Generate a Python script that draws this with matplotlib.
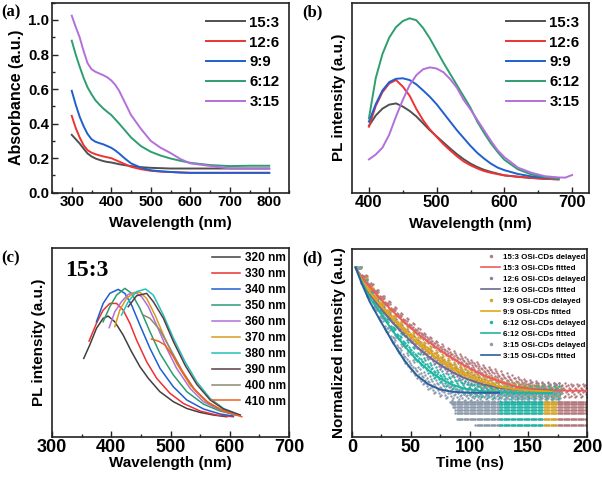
import matplotlib
matplotlib.use("Agg")
import matplotlib.pyplot as plt
from matplotlib.ticker import MultipleLocator, NullLocator
from matplotlib.lines import Line2D

plt.rcParams['font.family'] = ['Liberation Sans', 'DejaVu Sans']
plt.rcParams['font.weight'] = 'bold'
plt.rcParams['axes.labelweight'] = 'bold'

# ---------------- (a) absorbance ----------------
wl_a = [300, 310, 320, 330, 340, 350, 360, 370, 380, 390, 400, 410, 420, 435, 450,
        475, 500, 525, 550, 575, 600, 650, 700, 750, 800]
abs_15_3 = [0.335, 0.31, 0.285, 0.255, 0.227, 0.21, 0.198, 0.19, 0.183, 0.178, 0.175, 0.17, 0.165,
            0.159, 0.154, 0.148, 0.144, 0.142, 0.14, 0.14, 0.14, 0.14, 0.14, 0.14, 0.14]
abs_12_6 = [0.445, 0.375, 0.32, 0.275, 0.246, 0.232, 0.223, 0.216, 0.21, 0.205, 0.20, 0.19, 0.18,
            0.165, 0.15, 0.136, 0.127, 0.122, 0.12, 0.117, 0.115, 0.115, 0.115, 0.115, 0.115]
abs_9_9 = [0.59, 0.51, 0.44, 0.385, 0.34, 0.31, 0.295, 0.287, 0.28, 0.27, 0.26, 0.245, 0.227,
           0.197, 0.17, 0.145, 0.13, 0.124, 0.12, 0.117, 0.115, 0.115, 0.115, 0.115, 0.115]
abs_6_12 = [0.88, 0.80, 0.73, 0.665, 0.61, 0.57, 0.535, 0.51, 0.487, 0.468, 0.45, 0.425, 0.40,
            0.36, 0.32, 0.27, 0.237, 0.215, 0.198, 0.185, 0.173, 0.16, 0.154, 0.156, 0.156]
abs_3_15 = [1.025, 0.96, 0.90, 0.82, 0.75, 0.715, 0.70, 0.69, 0.68, 0.668, 0.65, 0.625, 0.59,
            0.52, 0.45, 0.37, 0.30, 0.26, 0.23, 0.195, 0.17, 0.155, 0.14, 0.14, 0.14]

ratio_labels = ['15:3', '12:6', '9:9', '6:12', '3:15']
ratio_colors = ['#505050', '#ee3333', '#1f5fd0', '#2e9e6e', '#b36fdc']

# ---------------- (b) PL spectra ----------------
wl_b = [400, 410, 420, 430, 440, 450, 460, 470, 480, 490, 500, 510, 520, 530, 540, 550, 560,
        570, 580, 590, 600, 620, 640, 660, 680]
pl_15_3 = [0.385, 0.445, 0.485, 0.508, 0.515, 0.497, 0.472, 0.44, 0.40, 0.36, 0.325, 0.29, 0.255,
           0.222, 0.193, 0.168, 0.148, 0.132, 0.12, 0.11, 0.10, 0.092, 0.085, 0.08, 0.077]
pl_12_6 = [0.381, 0.50, 0.58, 0.63, 0.65, 0.612, 0.56, 0.483, 0.418, 0.365, 0.322, 0.28, 0.244,
           0.21, 0.18, 0.158, 0.14, 0.125, 0.115, 0.107, 0.10, 0.092, 0.085, 0.08, 0.077]
pl_9_9 = [0.41, 0.51, 0.59, 0.638, 0.657, 0.66, 0.65, 0.625, 0.59, 0.553, 0.51, 0.46, 0.41,
          0.36, 0.315, 0.27, 0.23, 0.197, 0.168, 0.145, 0.13, 0.108, 0.094, 0.087, 0.083]
pl_6_12 = [0.429, 0.66, 0.80, 0.895, 0.955, 0.99, 1.006, 0.995, 0.95, 0.89, 0.82, 0.75, 0.685,
           0.62, 0.555, 0.49, 0.41, 0.345, 0.285, 0.235, 0.19, 0.135, 0.105, 0.09, 0.08]
wl_b_315 = [400, 410, 420, 430, 440, 450, 460, 470, 480, 490, 500, 510, 520, 530, 540, 550, 560,
            570, 580, 590, 600, 620, 640, 660, 680, 690, 700]
pl_3_15 = [0.192, 0.22, 0.26, 0.335, 0.44, 0.535, 0.62, 0.678, 0.712, 0.723, 0.716, 0.695, 0.655,
           0.605, 0.535, 0.48, 0.42, 0.36, 0.30, 0.245, 0.205, 0.145, 0.115, 0.095, 0.088, 0.087, 0.102]

# ---------------- (c) excitation-dependent PL of 15:3 ----------------
exc_labels = ['320 nm', '330 nm', '340 nm', '350 nm', '360 nm',
              '370 nm', '380 nm', '390 nm', '400 nm', '410 nm']
exc_colors = ['#404040', '#ee3030', '#1d5fd0', '#2a9d70', '#b070d8',
              '#d89a20', '#22c2b8', '#5a3a4a', '#8c8a70', '#f06020']
c_wl_320 = [353.6, 363.7, 375, 386.3, 394.8, 406, 420, 434.3, 448.4, 462.5, 482, 504.8, 527.4, 550, 572.5, 595]
c_pl_320 = [0.452, 0.529, 0.625, 0.683, 0.696, 0.663, 0.587, 0.49, 0.404, 0.337, 0.26, 0.202, 0.163, 0.14, 0.125, 0.115]
c_wl_330 = [362.6, 375, 386.3, 397.6, 408.9, 420.2, 431.5, 442.7, 459.7, 476.6, 499.2, 521.7, 550, 578, 606]
c_pl_330 = [0.552, 0.654, 0.73, 0.769, 0.769, 0.73, 0.654, 0.558, 0.433, 0.337, 0.25, 0.192, 0.148, 0.125, 0.115]
c_wl_340 = [375, 386.3, 397.6, 411.7, 423, 434.3, 448.4, 465.3, 482.3, 504.8, 527.4, 555.6, 583.8, 606.3]
c_pl_340 = [0.663, 0.769, 0.827, 0.85, 0.827, 0.76, 0.644, 0.51, 0.394, 0.288, 0.212, 0.16, 0.131, 0.119]
c_wl_350 = [386.3, 397.6, 408.9, 423, 434.3, 448.4, 465.3, 482.3, 504.8, 527.4, 555.6, 583.8, 612]
c_pl_350 = [0.663, 0.75, 0.817, 0.856, 0.827, 0.74, 0.606, 0.48, 0.356, 0.26, 0.188, 0.148, 0.125]
c_wl_360 = [396.5, 406, 417.3, 428.6, 439.9, 451.2, 462.5, 476.6, 493.5, 510.4, 533, 555.6, 583.8, 612]
c_pl_360 = [0.629, 0.721, 0.779, 0.821, 0.833, 0.808, 0.75, 0.644, 0.51, 0.394, 0.279, 0.202, 0.154, 0.125]
c_wl_370 = [406, 414.5, 425.8, 437.1, 448.4, 459.7, 473.8, 490.7, 510.4, 533, 558.4, 583.8, 617.6]
c_pl_370 = [0.635, 0.731, 0.798, 0.827, 0.833, 0.798, 0.702, 0.567, 0.423, 0.298, 0.208, 0.16, 0.121]
c_wl_380 = [417.3, 428.6, 442.7, 458, 471, 488, 505, 524.5, 544.3, 566.9, 589.4, 617.6]
c_pl_380 = [0.702, 0.779, 0.837, 0.852, 0.817, 0.702, 0.567, 0.433, 0.317, 0.221, 0.163, 0.125]
c_wl_390 = [428.6, 442.7, 459.7, 471, 488, 505, 524.5, 544.3, 566.9, 589.4, 617.6]
c_pl_390 = [0.75, 0.813, 0.827, 0.779, 0.683, 0.548, 0.413, 0.302, 0.212, 0.16, 0.125]
c_wl_400 = [454, 465.3, 482.3, 499.2, 519, 538.8, 561.3, 583.8, 609]
c_pl_400 = [0.702, 0.683, 0.615, 0.51, 0.385, 0.279, 0.202, 0.154, 0.125]
c_wl_410 = [468, 479.3, 490.7, 504.8, 521.7, 541.5, 564, 589.4, 620.4]
c_pl_410 = [0.563, 0.552, 0.529, 0.462, 0.365, 0.269, 0.196, 0.148, 0.115]

# ---------------- (d) delayed fluorescence decay ----------------
t_long = [3, 8, 13, 18, 23, 28, 33, 38, 43, 48, 53, 58, 63, 68, 73, 78, 83, 88, 93, 98,
          103, 108, 113, 118, 123, 128, 133, 138, 143, 148, 153, 158, 163, 168, 173, 178,
          183, 188, 193, 198]
t_short = t_long[:35]
d15_mid = [0.90, 0.855, 0.81, 0.775, 0.742, 0.71, 0.678, 0.647, 0.618, 0.59, 0.563, 0.538, 0.515,
           0.493, 0.472, 0.452, 0.434, 0.416, 0.40, 0.385, 0.37, 0.357, 0.344, 0.331, 0.318, 0.306,
           0.295, 0.285, 0.276, 0.268, 0.262, 0.257, 0.253, 0.25, 0.248, 0.246, 0.245, 0.245, 0.245, 0.245]
d15_spread = [0.004, 0.006, 0.007, 0.008, 0.01, 0.011, 0.012, 0.013, 0.014, 0.015, 0.016, 0.017,
              0.018, 0.019, 0.02, 0.021, 0.022, 0.023, 0.024, 0.025, 0.026, 0.027, 0.028, 0.029,
              0.03, 0.031, 0.032, 0.033, 0.034, 0.035, 0.036, 0.037, 0.038, 0.038, 0.038, 0.038,
              0.038, 0.038, 0.038, 0.038]
d12_mid = [0.90, 0.835, 0.78, 0.735, 0.695, 0.655, 0.62, 0.585, 0.552, 0.522, 0.492, 0.464, 0.438,
           0.414, 0.392, 0.372, 0.353, 0.337, 0.322, 0.308, 0.296, 0.285, 0.276, 0.268, 0.262,
           0.257, 0.253, 0.25, 0.248, 0.247, 0.246, 0.245, 0.245, 0.245, 0.245]
d12_spread = [0.004, 0.006, 0.008, 0.01, 0.012, 0.014, 0.016, 0.018, 0.02, 0.022, 0.024, 0.026,
              0.028, 0.03, 0.032, 0.034, 0.035, 0.036, 0.037, 0.038, 0.039, 0.04, 0.04, 0.04,
              0.04, 0.04, 0.04, 0.04, 0.04, 0.04, 0.04, 0.04, 0.04, 0.04, 0.04]
d9_mid = [0.90, 0.84, 0.79, 0.745, 0.708, 0.672, 0.638, 0.604, 0.573, 0.543, 0.515, 0.489, 0.464,
          0.44, 0.417, 0.396, 0.376, 0.358, 0.342, 0.328, 0.315, 0.303, 0.292, 0.281, 0.272,
          0.264, 0.258, 0.254, 0.25, 0.247, 0.245, 0.243, 0.242, 0.241, 0.24]
d9_spread = [0.004, 0.006, 0.008, 0.01, 0.011, 0.012, 0.013, 0.014, 0.015, 0.016, 0.017, 0.018,
             0.019, 0.02, 0.021, 0.022, 0.023, 0.024, 0.025, 0.026, 0.027, 0.028, 0.029, 0.03,
             0.03, 0.03, 0.03, 0.03, 0.03, 0.03, 0.03, 0.03, 0.03, 0.03, 0.03]
d6_mid = [0.90, 0.83, 0.765, 0.715, 0.668, 0.622, 0.578, 0.535, 0.495, 0.458, 0.424, 0.393, 0.365,
          0.34, 0.318, 0.30, 0.284, 0.27, 0.26, 0.252, 0.247, 0.243, 0.24, 0.238, 0.236, 0.235,
          0.234, 0.233, 0.233, 0.233, 0.233, 0.233, 0.233, 0.233, 0.233]
d6_spread = [0.004, 0.006, 0.008, 0.01, 0.012, 0.014, 0.016, 0.018, 0.02, 0.022, 0.024, 0.026,
             0.028, 0.03, 0.031, 0.032, 0.033, 0.034, 0.035, 0.035, 0.035, 0.035, 0.035, 0.035,
             0.035, 0.035, 0.035, 0.035, 0.035, 0.035, 0.035, 0.035, 0.035, 0.035, 0.035]
d3_mid = [0.90, 0.82, 0.75, 0.685, 0.63, 0.573, 0.52, 0.468, 0.42, 0.378, 0.342, 0.31, 0.285,
          0.265, 0.25, 0.24, 0.232, 0.226, 0.222, 0.22, 0.218, 0.217, 0.216, 0.215, 0.215, 0.215,
          0.215, 0.215, 0.215, 0.215, 0.215, 0.215, 0.215, 0.215, 0.215]
d3_spread = [0.004, 0.007, 0.01, 0.013, 0.016, 0.019, 0.022, 0.025, 0.028, 0.03, 0.032, 0.034,
             0.036, 0.037, 0.038, 0.038, 0.038, 0.038, 0.037, 0.036, 0.035, 0.035, 0.035, 0.035,
             0.035, 0.035, 0.035, 0.035, 0.035, 0.035, 0.035, 0.035, 0.035, 0.035, 0.035]
# low-count rows at the bottom of the decay
floor_levels = [0.187, 0.172, 0.156, 0.142, 0.126, 0.096, 0.062]
floor_start = [83, 85, 86, 88, 88, 89, 105]
floor_seg_end = [126, 163, 175, 200]
floor_seg_colors = ['#8c9bab', '#23b3a5', '#d4a52a', '#b57a7f']

t_fit = [3, 8, 15, 25, 35, 45, 55, 65, 75, 85, 95, 110, 125, 140, 155, 170, 185, 200]
fit_15 = [0.902, 0.855, 0.80, 0.728, 0.666, 0.606, 0.553, 0.506, 0.461, 0.418, 0.381, 0.333,
          0.295, 0.266, 0.253, 0.247, 0.245, 0.245]
fit_12 = [0.902, 0.835, 0.76, 0.68, 0.605, 0.54, 0.48, 0.428, 0.383, 0.345, 0.314, 0.281,
          0.261, 0.251, 0.247, 0.245]
fit_9 = [0.902, 0.84, 0.77, 0.694, 0.624, 0.561, 0.505, 0.454, 0.407, 0.367, 0.335, 0.296,
         0.267, 0.252, 0.245, 0.241]
fit_6 = [0.902, 0.83, 0.74, 0.652, 0.56, 0.48, 0.41, 0.355, 0.31, 0.277, 0.257, 0.243,
         0.237, 0.234, 0.233, 0.233]
fit_3 = [0.902, 0.82, 0.72, 0.608, 0.50, 0.402, 0.328, 0.279, 0.251, 0.24, 0.235, 0.234, 0.234]
decay_names = ['15:3', '12:6', '9:9', '6:12', '3:15']
dot_colors = ['#b57a7f', '#8d7f9e', '#d4a52a', '#23b3a5', '#8c9bab']
fit_colors = ['#f25a5a', '#6b6b8f', '#e8a317', '#1fb5a0', '#2a5f9e']

# ---------------- figure ----------------
W, H = 602, 479
fig = plt.figure(figsize=(W / 100, H / 100), dpi=100)


def px_axes(l, t, r, b):
    return fig.add_axes([l / W, 1 - b / H, (r - l) / W, (b - t) / H])


def style(ax, fs):
    for s in ax.spines.values():
        s.set_linewidth(1.2)
        s.set_color('#222222')
    ax.tick_params(which='both', direction='in', top=False, right=False, width=1.0,
                   labelsize=fs, pad=2, color='#222222')
    ax.tick_params(which='major', length=4)
    ax.tick_params(which='minor', length=2.5)


def legend_px(ax, handles, labels, x, y, fs, spacing, hl, tp):
    ax.legend(handles, labels, loc='upper left', bbox_to_anchor=(x / W, 1 - y / H),
              bbox_transform=fig.transFigure, frameon=False, borderpad=0, borderaxespad=0,
              prop={'size': fs, 'weight': 'bold'}, labelspacing=spacing, handlelength=hl,
              handletextpad=tp)


def panel_label(x, y, s):
    fig.text(x / W, 1 - y / H, s, family='Liberation Serif', weight='bold', fontsize=12,
             ha='left', va='center')


# (a)
ax = px_axes(52, 2.7, 289, 192.7)
hs = []
for vals, col in zip([abs_15_3, abs_12_6, abs_9_9, abs_6_12, abs_3_15], ratio_colors):
    hs.append(ax.plot(wl_a, vals, color=col, lw=1.4)[0])
ax.set_xlim(250, 850)
ax.set_ylim(0, 1.1)
ax.xaxis.set_major_locator(MultipleLocator(100))
ax.xaxis.set_minor_locator(MultipleLocator(50))
ax.yaxis.set_major_locator(MultipleLocator(0.2))
ax.yaxis.set_minor_locator(MultipleLocator(0.1))
ax.yaxis.set_major_formatter(plt.FormatStrFormatter('%.1f'))
style(ax, 10.8)
ax.set_xlabel('Wavelength (nm)', fontsize=11, labelpad=5)
ax.set_ylabel('Absorbance (a.u.)', fontsize=11.5, labelpad=3)
legend_px(ax, hs, ratio_labels, 206, 15.7, 10.8, 0.39, 2.6, 0.3)
panel_label(1, 12, '(a)')

# (b)
ax = px_axes(352, 2.7, 589, 192.7)
hs = []
for wl, vals, col in zip([wl_b, wl_b, wl_b, wl_b, wl_b_315],
                         [pl_15_3, pl_12_6, pl_9_9, pl_6_12, pl_3_15], ratio_colors):
    hs.append(ax.plot(wl, vals, color=col, lw=1.4)[0])
ax.set_xlim(375, 725)
ax.set_ylim(0, 1.096)
ax.xaxis.set_major_locator(MultipleLocator(100))
ax.xaxis.set_minor_locator(MultipleLocator(50))
ax.yaxis.set_major_locator(NullLocator())
style(ax, 12)
ax.set_xlabel('Wavelength (nm)', fontsize=11, labelpad=5)
ax.set_ylabel('PL intensity (a.u.)', fontsize=11, labelpad=4)
legend_px(ax, hs, ratio_labels, 506, 15.7, 10.8, 0.39, 2.6, 0.3)
panel_label(302, 12, '(b)')

# (c)
ax = px_axes(52, 248.3, 289, 436.7)
c_wls = [c_wl_320, c_wl_330, c_wl_340, c_wl_350, c_wl_360, c_wl_370, c_wl_380, c_wl_390, c_wl_400, c_wl_410]
c_pls = [c_pl_320, c_pl_330, c_pl_340, c_pl_350, c_pl_360, c_pl_370, c_pl_380, c_pl_390, c_pl_400, c_pl_410]
hs = []
for wl, vals, col in zip(c_wls, c_pls, exc_colors):
    hs.append(ax.plot(wl, vals, color=col, lw=1.1)[0])
ax.set_xlim(300, 700)
ax.set_ylim(0, 1.087)
ax.xaxis.set_major_locator(MultipleLocator(100))
ax.xaxis.set_minor_locator(MultipleLocator(50))
ax.yaxis.set_major_locator(NullLocator())
style(ax, 13)
ax.set_xlabel('Wavelength (nm)', fontsize=11, labelpad=0)
ax.set_ylabel('PL intensity (a.u.)', fontsize=11, labelpad=4.4)
legend_px(ax, hs, exc_labels, 212, 252.2, 8.6, 0.33, 2.35, 0.42)
ax.text(0.055, 0.88, '15:3', transform=ax.transAxes, family='Liberation Serif',
        weight='bold', fontsize=17, ha='left', va='center')
panel_label(1, 258, '(c)')

# (d)
ax = px_axes(352, 249, 587, 436.7)
offsets = [(0.0, 0.0), (0.5, 0.8), (1.0, -0.4), (1.5, 0.4), (2.0, -0.9), (2.5, 0.2),
           (3.0, -0.7), (3.5, 1.0), (4.0, -0.2), (4.5, 0.6)]
series_t = [t_long, t_short, t_short, t_short, t_short]
series_mid = [d15_mid, d12_mid, d9_mid, d6_mid, d3_mid]
series_sp = [d15_spread, d12_spread, d9_spread, d6_spread, d3_spread]
for ts, mids, sps, col in zip(series_t, series_mid, series_sp, dot_colors):
    for dt, k in offsets:
        ax.scatter([t + dt for t in ts], [m + k * s for m, s in zip(mids, sps)],
                   s=3, color=col, linewidths=0, zorder=2)
for lev, st in zip(floor_levels, floor_start):
    lo = st
    for end, col in zip(floor_seg_end, floor_seg_colors):
        ts = [t for t in range(int(lo), end)]
        if ts:
            ax.scatter(ts, [lev] * len(ts), s=3, color=col, linewidths=0, zorder=2)
        lo = max(lo, end)
fits = [fit_15, fit_12, fit_9, fit_6, fit_3]
for vals, col in zip(fits, fit_colors):
    ax.plot(t_fit[:len(vals)], vals, color=col, lw=1.4, zorder=3)
ax.set_xlim(0, 200)
ax.set_ylim(0, 1.0)
ax.xaxis.set_major_locator(MultipleLocator(50))
ax.xaxis.set_minor_locator(MultipleLocator(25))
ax.yaxis.set_major_locator(NullLocator())
style(ax, 13)
ax.set_xlabel('Time (ns)', fontsize=11, labelpad=0)
ax.set_ylabel('Normalized intensity (a.u.)', fontsize=11, labelpad=4)
hs, labs = [], []
for name, dc, fc in zip(decay_names, dot_colors, fit_colors):
    hs.append(Line2D([], [], ls='none', marker='o', ms=2.5, color=dc, mec='none'))
    labs.append(name + ' OSi-CDs delayed')
    hs.append(Line2D([], [], color=fc, lw=1.2))
    labs.append(name + ' OSi-CDs fitted')
legend_px(ax, hs, labs, 480.7, 253.5, 5.7, 0.43, 2.5, 0.33)
panel_label(302, 258, '(d)')

fig.savefig('out.png', dpi=100)
